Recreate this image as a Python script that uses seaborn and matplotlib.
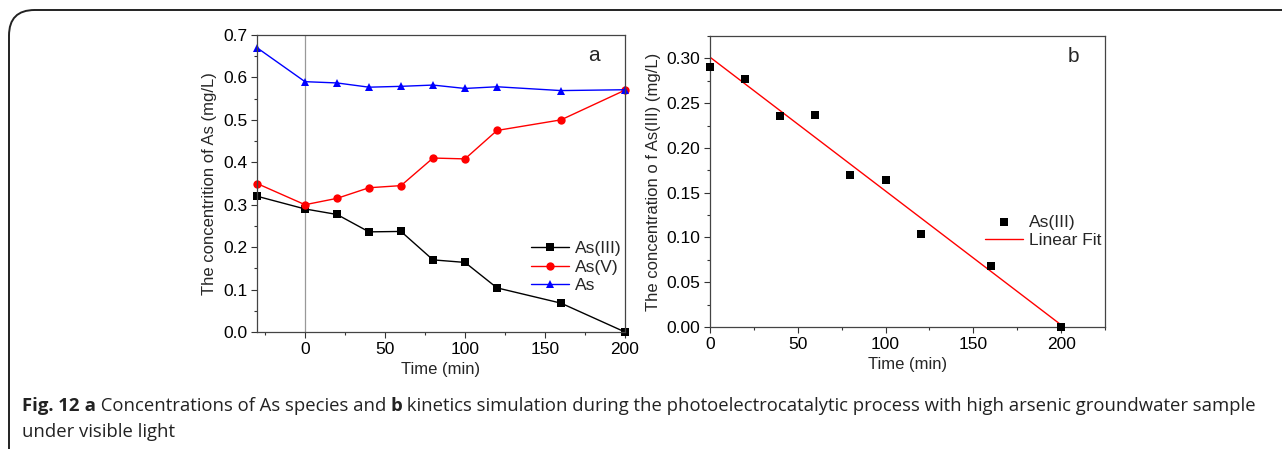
import matplotlib
matplotlib.use("Agg")
import matplotlib.pyplot as plt
from matplotlib.patches import FancyBboxPatch
from matplotlib.ticker import MultipleLocator, FormatStrFormatter
import numpy as np
import pandas as pd
import seaborn as sns

# panel a data
time_a = [-30, 0, 20, 40, 60, 80, 100, 120, 160, 200]
as3 = [0.32, 0.29, 0.277, 0.236, 0.237, 0.17, 0.164, 0.104, 0.068, 0.0]
as5 = [0.35, 0.30, 0.315, 0.34, 0.345, 0.41, 0.408, 0.475, 0.50, 0.57]
as_total = [0.67, 0.59, 0.587, 0.577, 0.579, 0.582, 0.574, 0.578, 0.569, 0.571]
species = ["As(III)", "As(V)", "As"]

# panel b data
time_b = [0, 20, 40, 60, 80, 100, 120, 160, 200]
as3_b = [0.29, 0.277, 0.236, 0.237, 0.17, 0.164, 0.104, 0.068, 0.0]

caption_parts = [
    ("Fig. 12", "bold"),
    (" a", "bold"),
    (" Concentrations of As species and ", "normal"),
    ("b", "bold"),
    (" kinetics simulation during the photoelectrocatalytic process with high arsenic groundwater sample", "normal"),
]
caption_line2 = "under visible light"

sns.set_theme(style="ticks")
plt.rcParams["font.family"] = ["Liberation Sans", "DejaVu Sans"]
plt.rcParams["xtick.direction"] = "out"
plt.rcParams["ytick.direction"] = "out"

df_a = pd.DataFrame({
    "time": time_a * 3,
    "conc": as3 + as5 + as_total,
    "species": [s for s in species for _ in time_a],
})

fig = plt.figure(figsize=(12.82, 4.49), dpi=100)
W, H = 1282, 449


def px_axes(l, t, r, b):
    return fig.add_axes([l / W, 1 - b / H, (r - l) / W, (b - t) / H])


ax_a = px_axes(257, 35, 625, 332)
ax_b = px_axes(710, 36, 1105, 327)

palette = {"As(III)": "black", "As(V)": "red", "As": "blue"}
markers = {"As(III)": "s", "As(V)": "o", "As": "^"}
ax_a.axvline(0, color="#999999", lw=0.9, zorder=0)
sns.lineplot(data=df_a, x="time", y="conc", hue="species", style="species",
             palette=palette, markers=markers, dashes=False, markersize=6,
             markeredgewidth=0, linewidth=1.0, ax=ax_a, clip_on=False)
ax_a.set_xlim(-30, 200)
ax_a.set_ylim(0, 0.7)
ax_a.xaxis.set_major_locator(MultipleLocator(50))
ax_a.xaxis.set_minor_locator(MultipleLocator(25))
ax_a.yaxis.set_major_locator(MultipleLocator(0.1))
ax_a.yaxis.set_minor_locator(MultipleLocator(0.05))
ax_a.set_xlabel("Time (min)", fontsize=12)
ax_a.set_ylabel("The concentrition of As (mg/L)", fontsize=12)
ax_a.text(0.915, 0.93, "a", transform=ax_a.transAxes, fontsize=15, ha="center", va="center")
ax_a.legend(loc="lower right", bbox_to_anchor=(0.99, 0.13), frameon=False,
            fontsize=12.5, handlelength=2.2, handletextpad=0.3, labelspacing=0.2,
            borderpad=0, borderaxespad=0)

# panel b: points and linear fit
slope, intercept = np.polyfit(time_b, as3_b, 1)
fit_x = np.array([0, 200])
fit_y = intercept + slope * fit_x
sns.lineplot(x=fit_x, y=fit_y, color="red", linewidth=1.0, ax=ax_b, label="Linear Fit")
sns.scatterplot(x=time_b, y=as3_b, marker="s", color="black", s=32, linewidth=0,
                ax=ax_b, label="As(III)", clip_on=False, zorder=3)
ax_b.set_xlim(0, 225)
ax_b.set_ylim(0, 0.325)
ax_b.xaxis.set_major_locator(MultipleLocator(50))
ax_b.xaxis.set_minor_locator(MultipleLocator(25))
ax_b.yaxis.set_major_locator(MultipleLocator(0.05))
ax_b.yaxis.set_minor_locator(MultipleLocator(0.025))
ax_b.yaxis.set_major_formatter(FormatStrFormatter("%.2f"))
ax_b.set_xlabel("Time (min)", fontsize=12)
ax_b.set_ylabel("The concentration o f As(III) (mg/L)", fontsize=12)
ax_b.text(0.92, 0.93, "b", transform=ax_b.transAxes, fontsize=15, ha="center", va="center")
h, l = ax_b.get_legend_handles_labels()
ax_b.legend(h[::-1], l[::-1], loc="lower right", bbox_to_anchor=(0.99, 0.27), frameon=False,
            fontsize=12.5, handlelength=2.2, handletextpad=0.3, labelspacing=0.2,
            borderpad=0, borderaxespad=0)

for ax in (ax_a, ax_b):
    for sp in ax.spines.values():
        sp.set_visible(True)
        sp.set_color("#444444")
        sp.set_linewidth(0.9)
    ax.tick_params(which="major", length=4, width=0.8, labelsize=12.5, colors="#333333",
                   labelcolor="black", pad=3)
    ax.tick_params(which="minor", length=2.5, width=0.8, colors="#333333")

# rounded outer frame, open at bottom and right
frame = FancyBboxPatch((9 / W, -0.2), 1.2, 1.2 - 10 / H,
                       boxstyle="round,pad=0,rounding_size=0.02",
                       transform=fig.transFigure, fill=False, ec="#222222", lw=1.4,
                       mutation_aspect=W / H)
fig.patches.append(frame)

# caption with mixed weights, pieces chained one after another
cap_kw = dict(fontsize=13.3, family=["Open Sans", "DejaVu Sans"], color="#222222")
prev = fig.text(22 / W, 1 - 411 / H, caption_parts[0][0], fontweight=caption_parts[0][1],
                va="baseline", **cap_kw)
for txt, wt in caption_parts[1:]:
    prev = ax_a.annotate(txt, xy=(1, 0), xycoords=prev, va="bottom", ha="left",
                         fontweight=wt, annotation_clip=False, **cap_kw)
fig.text(22 / W, 1 - 437 / H, caption_line2, va="baseline", **cap_kw)

fig.savefig("out.png", dpi=100)
